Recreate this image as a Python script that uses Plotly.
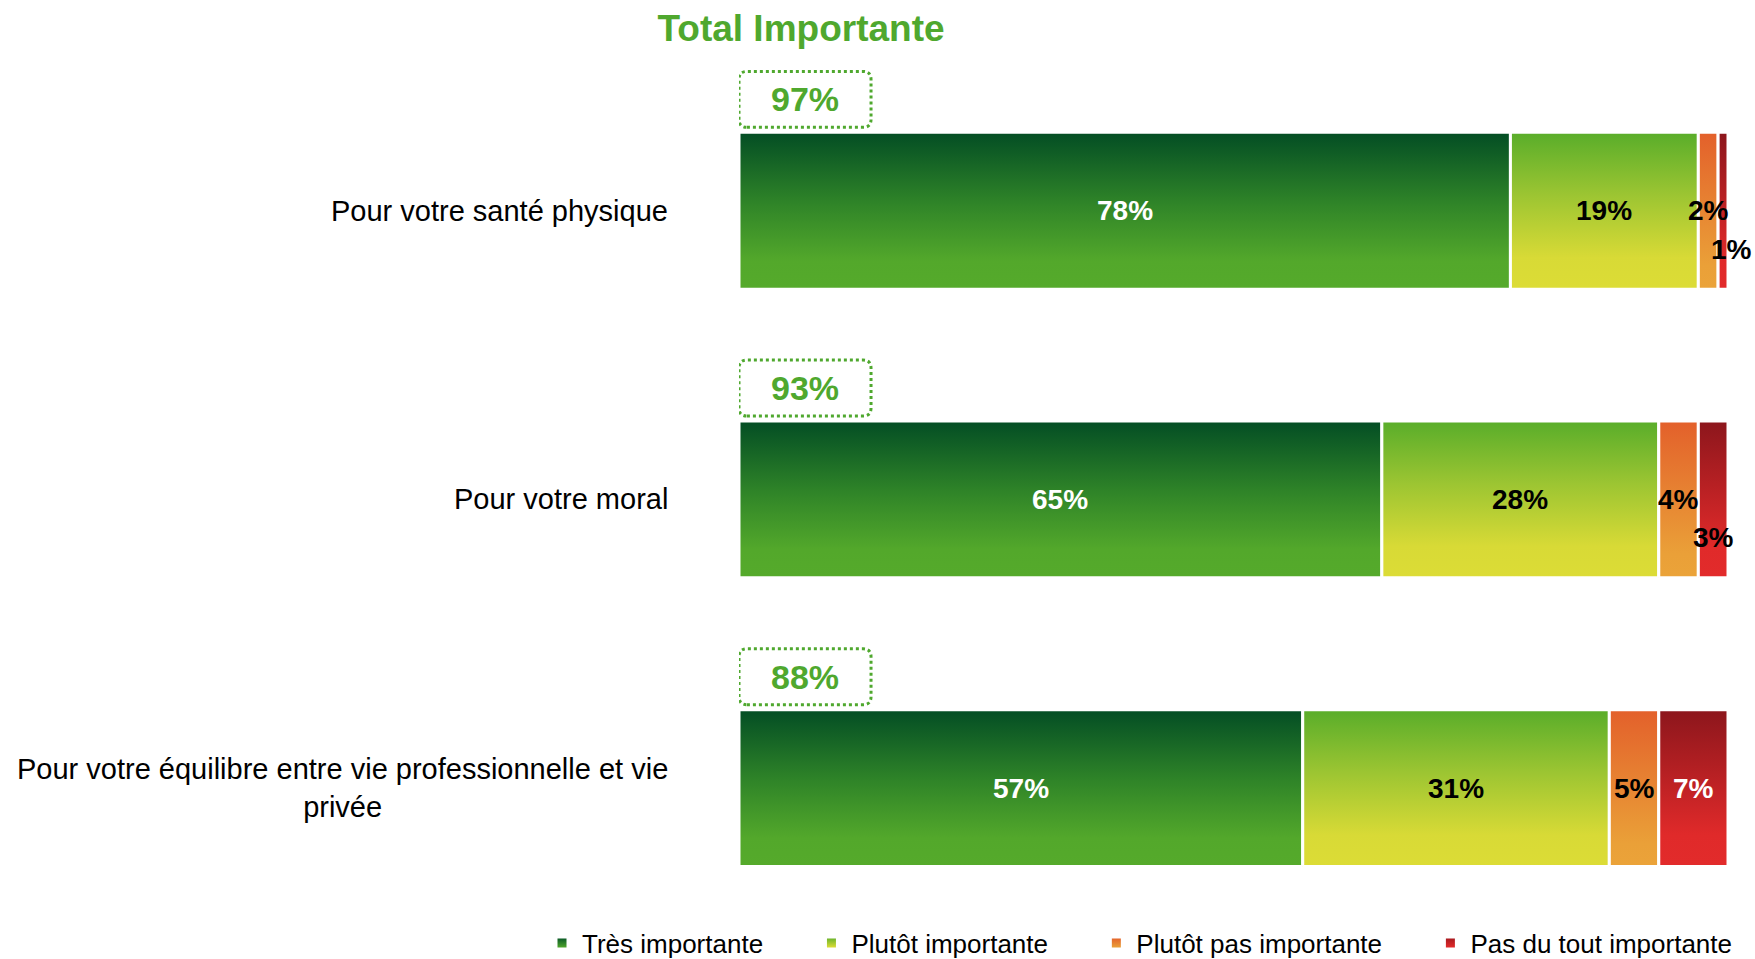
import plotly.graph_objects as go

# Données (en %)
categories = [
    "Pour votre santé physique",
    "Pour votre moral",
    "Pour votre équilibre entre vie professionnelle et vie<br>privée",
]
tres_importante      = [78, 65, 57]
plutot_importante    = [19, 28, 31]
plutot_pas           = [2, 4, 5]
pas_du_tout          = [1, 3, 7]

series_noms = ["Très importante", "Plutôt importante", "Plutôt pas importante", "Pas du tout importante"]
series_vals = [tres_importante, plutot_importante, plutot_pas, pas_du_tout]

# Dégradés (bas -> haut)
DEGRADES = [
    [[0, "#55aa2b"], [0.18, "#53a82b"], [0.55, "#2f8428"], [1, "#034d24"]],
    [[0, "#dcdc36"], [0.2, "#d8da36"], [0.6, "#9cc532"], [1, "#59ad2a"]],
    [[0, "#eba339"], [0.15, "#eaa038"], [1, "#e3602b"]],
    [[0, "#e22b2b"], [0.2, "#e02a2a"], [1, "#8c161c"]],
]
LEGENDE_HAUT = ["#0a5a26", "#6cb42c", "#e4652b", "#a81a1f"]
LEGENDE_BAS  = ["#4fa52b", "#dcdc36", "#eaa038", "#e22b2b"]
TEXTE_COULEUR = ["white", "black", "black", "white"]
VERT = "#4fa82e"
POLICE = "Liberation Sans, Arial, sans-serif"

# décalages des petites étiquettes (rang, série) -> (dx px, dy px, couleur)
DECALAGES = {(0, 3): (8, -39, "black"), (1, 3): (0, -38, "black")}

DEMI = 0.2716          # demi-hauteur de barre (unités y)
n = len(categories)
rangs_y = [n - 1 - i for i in range(n)]   # premier item en haut

fig = go.Figure()
annotations = []
shapes = []

for i, y in enumerate(rangs_y):
    cumul = 0
    for s, (nom, vals) in enumerate(zip(series_noms, series_vals)):
        v = vals[i]
        x0, x1 = cumul, cumul + v
        fig.add_trace(go.Scatter(
            x          = [x0, x1, x1, x0, x0],
            y          = [y - DEMI, y - DEMI, y + DEMI, y + DEMI, y - DEMI],
            mode       = "lines",
            fill       = "toself",
            line       = dict(color="white", width=3),
            fillgradient = dict(type="vertical", colorscale=DEGRADES[s],
                                start=y - DEMI, stop=y + DEMI),
            showlegend = False,
            hoverinfo  = "skip",
        ))
        dx, dy, coul = DECALAGES.get((i, s), (0, 0, TEXTE_COULEUR[s]))
        annotations.append(dict(
            x=(x0 + x1) / 2, y=y, xref="x", yref="y", text=f"<b>{v}%</b>",
            showarrow=False, xshift=dx, yshift=dy,
            font=dict(size=28, color=coul, family=POLICE),
        ))
        cumul = x1

    # libellé de catégorie
    annotations.append(dict(
        x=-0.0698, y=y, xref="paper", yref="y", text=categories[i],
        showarrow=False, xanchor="right", align="center",
        font=dict(size=29, color="black", family=POLICE),
    ))

    # encadré "Total Importante"
    total = tres_importante[i] + plutot_importante[i]
    bx0, bx1 = 0, 13.35
    by0, by1 = y + DEMI + 0.0173, y + DEMI + 0.2110
    rx, ry = 0.8, 0.028
    shapes.append(dict(
        type="path", xref="x", yref="y",
        path=(f"M {bx0 + rx},{by0} L {bx1 - rx},{by0} Q {bx1},{by0} {bx1},{by0 + ry} "
              f"L {bx1},{by1 - ry} Q {bx1},{by1} {bx1 - rx},{by1} "
              f"L {bx0 + rx},{by1} Q {bx0},{by1} {bx0},{by1 - ry} "
              f"L {bx0},{by0 + ry} Q {bx0},{by0} {bx0 + rx},{by0} Z"),
        line=dict(color=VERT, width=3, dash="dot"),
    ))
    annotations.append(dict(
        x=(bx0 + bx1) / 2, y=(by0 + by1) / 2, xref="x", yref="y",
        text=f"<b>{total}%</b>", showarrow=False,
        font=dict(size=34, color=VERT, family=POLICE),
    ))

# légende
for s, nom in enumerate(series_noms):
    pad = "\u00a0" * 6 if s < len(series_noms) - 1 else ""
    fig.add_trace(go.Scatter(
        x=[None], y=[None], mode="markers", name=nom + pad,
        marker=dict(symbol="square", size=9, color=LEGENDE_HAUT[s],
                    gradient=dict(type="vertical", color=LEGENDE_BAS[s])),
    ))

fig.update_layout(
    width         = 1755,
    height        = 959,
    margin        = dict(l=739, r=27, t=52, b=41, pad=0, autoexpand=False),
    xaxis         = dict(range=[0, 100], visible=False, fixedrange=True),
    yaxis         = dict(range=[-0.45, 2.55], visible=False, fixedrange=True),
    title         = dict(text="<b>Total Importante</b>", x=801 / 1755, xanchor="center",
                         xref="container", y=1 - 28 / 959, yanchor="middle", yref="container",
                         font=dict(size=37, color=VERT, family=POLICE)),
    showlegend    = True,
    legend        = dict(orientation="h", xref="paper", yref="paper",
                         x=(542 - 739) / 989, xanchor="left",
                         y=-(943 - 918) / 866, yanchor="middle",
                         font=dict(size=26, color="black", family=POLICE),
                         bgcolor="rgba(0,0,0,0)"),
    annotations   = annotations,
    shapes        = shapes,
    paper_bgcolor = "white",
    plot_bgcolor  = "white",
)

fig.write_html("out.html", config={"displayModeBar": False},
               post_script="document.body.style.margin = '0';")
